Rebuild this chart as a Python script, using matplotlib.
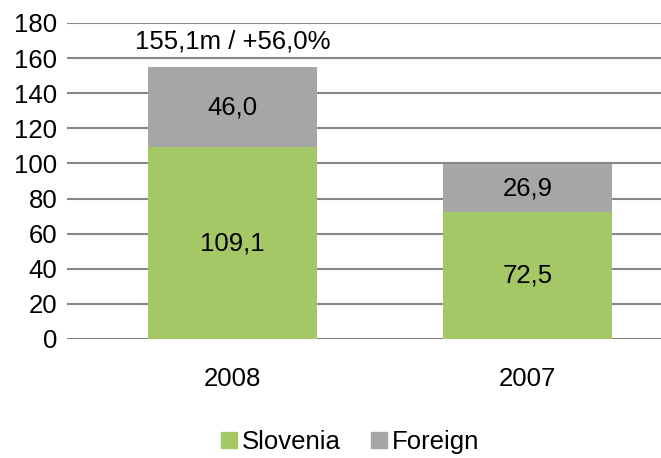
import matplotlib
matplotlib.use("Agg")
import matplotlib.pyplot as plt
from matplotlib.patches import Patch

years = ["2008", "2007"]
slovenia = [109.1, 72.5]
foreign = [46.0, 26.9]
slovenia_labels = ["109,1", "72,5"]
foreign_labels = ["46,0", "26,9"]
total_label = "155,1m / +56,0%"
yticks = [0, 20, 40, 60, 80, 100, 120, 140, 160, 180]

plt.rcParams['font.family'] = ['Liberation Sans', 'DejaVu Sans']

fig = plt.figure(figsize=(6.61, 4.58), dpi=100)
ax = fig.add_axes([67/661, 1-339/458, 1-67/661, (339-23)/458])

green = "#A5C866"
gray = "#A6A6A6"
fs = 18.5
x = list(range(len(years)))
w = 0.573
ax.bar(x, slovenia, width=w, color=green, zorder=3, label="Slovenia")
ax.bar(x, foreign, width=w, bottom=slovenia, color=gray, zorder=3, label="Foreign")

for i in x:
    ax.text(i, slovenia[i]/2, slovenia_labels[i], ha="center", va="center", fontsize=fs, zorder=4)
    ax.text(i, slovenia[i] + foreign[i]/2, foreign_labels[i], ha="center", va="center", fontsize=fs, zorder=4)
ax.text(0, 169.5, total_label, ha="center", va="center", fontsize=fs)

ax.set_ylim(0, 180)
ax.set_xlim(-0.561, 1.453)
ax.set_yticks(yticks)
ax.set_xticks(x)
ax.set_xticklabels(years)
ax.yaxis.grid(True, color="#868686", linewidth=1.5, zorder=0)
for s in ax.spines.values():
    s.set_visible(False)
ax.tick_params(axis="both", length=0, labelsize=fs)
ax.tick_params(axis="y", pad=7)
ax.tick_params(axis="x", pad=20)

handles = [Patch(color=green, label="Slovenia"), Patch(color=gray, label="Foreign")]
fig.legend(handles=handles, loc="center", bbox_to_anchor=(0.53, 1-442/458), ncol=2,
           frameon=False, fontsize=fs, handlelength=0.6, handleheight=0.6,
           handletextpad=0.2, columnspacing=1.2, borderpad=0)

fig.savefig("out.png", dpi=100)
